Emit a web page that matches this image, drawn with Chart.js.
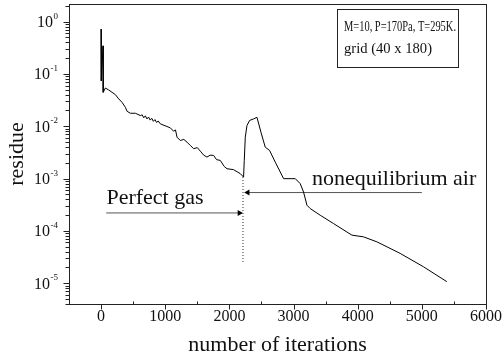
<!DOCTYPE html>
<html>
<head>
<meta charset="utf-8">
<script src="https://cdn.jsdelivr.net/npm/chart.js@4.4.1/dist/chart.umd.min.js"></script>
<style>
html, body { margin: 0; padding: 0; background: #ffffff; }
#wrap { width: 503px; height: 360px; }
</style>
</head>
<body>
<div id="wrap"><canvas id="c" width="503" height="360"></canvas></div>
<script>
// ---- data ----
const iterations = [0, 3, 31, 33, 67, 119, 171, 223, 275, 327, 379, 405, 457, 535, 612,
  640, 665, 690, 715, 740, 765, 790, 815, 840, 865, 890, 924,
  1028, 1080, 1131, 1160, 1184, 1235, 1290, 1340, 1390, 1443, 1500, 1547, 1600, 1651, 1700, 1754, 1800, 1858, 1920, 1963, 2065, 2170, 2221,
  2232, 2248, 2274, 2315, 2377, 2430, 2492, 2559, 2627, 2715, 2845, 3027, 3104, 3156, 3209, 3260, 3416, 3623, 3910, 4090, 4299, 4662, 5025, 5389];
const residue = [0.72, 0.074, 0.344, 0.0445, 0.0538, 0.0493, 0.0445, 0.0402, 0.0333, 0.0286, 0.023, 0.0193, 0.0177, 0.0177, 0.016,
  0.0165, 0.0145, 0.0158, 0.0138, 0.0150, 0.0131, 0.0142, 0.0124, 0.0134, 0.0118, 0.0126, 0.0111,
  0.00987, 0.0093, 0.00803, 0.0085, 0.00617, 0.00534, 0.0056, 0.00496, 0.0043, 0.00372, 0.0039, 0.00334, 0.0028, 0.00257, 0.0028, 0.00277, 0.0023, 0.00222, 0.0017, 0.00154, 0.00148, 0.00124, 0.00107,
  0.00222, 0.00617, 0.0103, 0.0129, 0.0138, 0.0148, 0.00769, 0.00398, 0.00344, 0.00206, 0.000995, 0.000995, 0.0008, 0.000553, 0.000309, 0.000267, 0.000199, 0.000138, 0.0000828, 0.0000769, 0.0000617, 0.0000371, 0.0000206, 0.0000107];

const switchIteration = [2212, 2212];
const switchResidue = [0.00107, 0.000024];
const perfectGasArrowIter = [80, 2157];
const perfectGasArrowRes = [0.00022, 0.00022];
const noneqArrowIter = [5000, 2285];
const noneqArrowRes = [0.00054, 0.00054];

const xTickValues = [0, 1000, 2000, 3000, 4000, 5000, 6000];
const xTickLabels = ['0', '1000', '2000', '3000', '4000', '5000', '6000'];
const xMinorTickValues = [-500, 500, 1500, 2500, 3500, 4500, 5500];
const yTickExponents = [0, -1, -2, -3, -4, -5];
const yMinorDecades = [-6, -5, -4, -3, -2, -1, 0];

const xTitle = 'number of iterations';
const yTitle = 'residue';
const perfectGasText = 'Perfect gas';
const noneqText = 'nonequilibrium air';
const infoLines = ['M=10, P=170Pa, T=295K.', 'grid (40 x 180)'];

const SERIF = "'Liberation Serif', 'Times New Roman', Times, serif";

function pts(xs, ys) { return xs.map((v, i) => ({ x: v, y: ys[i] })); }

const decor = {
  id: 'decor',
  afterDraw(chart) {
    const { ctx, chartArea: a, scales } = chart;
    const x = scales.x, y = scales.y;
    ctx.save();
    ctx.strokeStyle = '#222';
    ctx.lineWidth = 1;
    // frame
    const L = Math.round(a.left) + 0.5, T = Math.round(a.top) + 0.5;
    const R = Math.round(a.right) + 0.5, B = Math.round(a.bottom) + 0.5;
    ctx.strokeRect(L, T, R - L, B - T);
    // x ticks
    ctx.beginPath();
    xTickValues.forEach(v => {
      const px = Math.round(x.getPixelForValue(v)) + 0.5;
      ctx.moveTo(px, B); ctx.lineTo(px, B + 5);
    });
    xMinorTickValues.forEach(v => {
      const px = Math.round(x.getPixelForValue(v)) + 0.5;
      ctx.moveTo(px, B); ctx.lineTo(px, B - 3);
    });
    // y ticks
    yTickExponents.forEach(e => {
      const py = Math.round(y.getPixelForValue(Math.pow(10, e))) + 0.5;
      ctx.moveTo(L - 6, py); ctx.lineTo(L, py);
    });
    yMinorDecades.forEach(e => {
      for (let m = 2; m <= 9; m++) {
        const v = m * Math.pow(10, e);
        if (v < y.min || v > y.max) continue;
        const py = Math.round(y.getPixelForValue(v)) + 0.5;
        ctx.moveTo(L - 4, py); ctx.lineTo(L, py);
      }
    });
    ctx.stroke();

    ctx.fillStyle = '#111';
    ctx.textBaseline = 'alphabetic';
    // x tick labels
    ctx.font = '16px ' + SERIF;
    ctx.textAlign = 'center';
    xTickValues.forEach((v, i) => {
      ctx.fillText(xTickLabels[i], x.getPixelForValue(v), a.bottom + 16.5);
    });

    // y tick labels with superscript exponents
    const right = a.left - 11;
    yTickExponents.forEach(e => {
      const py = y.getPixelForValue(Math.pow(10, e));
      const expStr = e === 0 ? '0' : '-' + Math.abs(e);
      ctx.font = '9px ' + SERIF;
      const we = ctx.measureText(expStr).width;
      ctx.textAlign = 'left';
      ctx.fillText(expStr, right - we, py - 3);
      ctx.font = '16px ' + SERIF;
      ctx.textAlign = 'right';
      ctx.fillText('10', right - we - 0.5, py + 5.5);
    });

    // annotation texts
    ctx.font = '22px ' + SERIF;
    ctx.textAlign = 'left';
    ctx.fillText(perfectGasText, x.getPixelForValue(83), y.getPixelForValue(0.00032));
    ctx.fillText(noneqText, x.getPixelForValue(3286), y.getPixelForValue(0.00074));

    // info box
    ctx.strokeRect(337.5, 9.5, 121, 58);
    ctx.font = '15px ' + SERIF;
    ctx.fillText(infoLines[0], 344, 31, 112);
    ctx.fillText(infoLines[1], 344, 53, 88);
    ctx.restore();
  }
};

new Chart(document.getElementById('c'), {
  type: 'line',
  data: {
    datasets: [
      { data: pts(iterations, residue), borderColor: '#000', borderWidth: 1, pointRadius: 0, tension: 0, fill: false },
      { data: pts(switchIteration, switchResidue), borderColor: '#333', borderWidth: 1, borderDash: [1, 2], pointRadius: 0, fill: false },
      { data: pts(perfectGasArrowIter, perfectGasArrowRes), borderColor: '#555', borderWidth: 1, fill: false,
        pointStyle: 'triangle', pointRadius: [0, 3.5], pointRotation: [0, 90], pointBackgroundColor: '#000', pointBorderColor: '#000', pointBorderWidth: 0 },
      { data: pts(noneqArrowIter, noneqArrowRes), borderColor: '#555', borderWidth: 1, fill: false,
        pointStyle: 'triangle', pointRadius: [0, 3.5], pointRotation: [0, -90], pointBackgroundColor: '#000', pointBorderColor: '#000', pointBorderWidth: 0 }
    ]
  },
  options: {
    responsive: false,
    animation: false,
    devicePixelRatio: 1,
    layout: { padding: { top: 3, right: 17, left: 0, bottom: 0 } },
    plugins: { legend: { display: false }, tooltip: { enabled: false } },
    scales: {
      x: {
        type: 'linear', min: -500, max: 6000,
        grid: { display: false, drawTicks: false },
        border: { display: false },
        ticks: { display: false },
        title: { display: true, text: xTitle, color: '#111', font: { family: SERIF, size: 22 }, padding: { top: 0, bottom: 2 } },
        afterFit: (s) => { s.height = 56; }
      },
      y: {
        type: 'logarithmic', min: 4.0e-6, max: 2.17, bounds: 'data',
        grid: { display: false, drawTicks: false },
        border: { display: false },
        ticks: { display: false },
        title: { display: true, text: yTitle, color: '#111', font: { family: SERIF, size: 22 }, padding: { top: 4, bottom: 0 } },
        afterFit: (s) => { s.width = 69; }
      }
    }
  },
  plugins: [decor]
});
</script>
</body>
</html>
